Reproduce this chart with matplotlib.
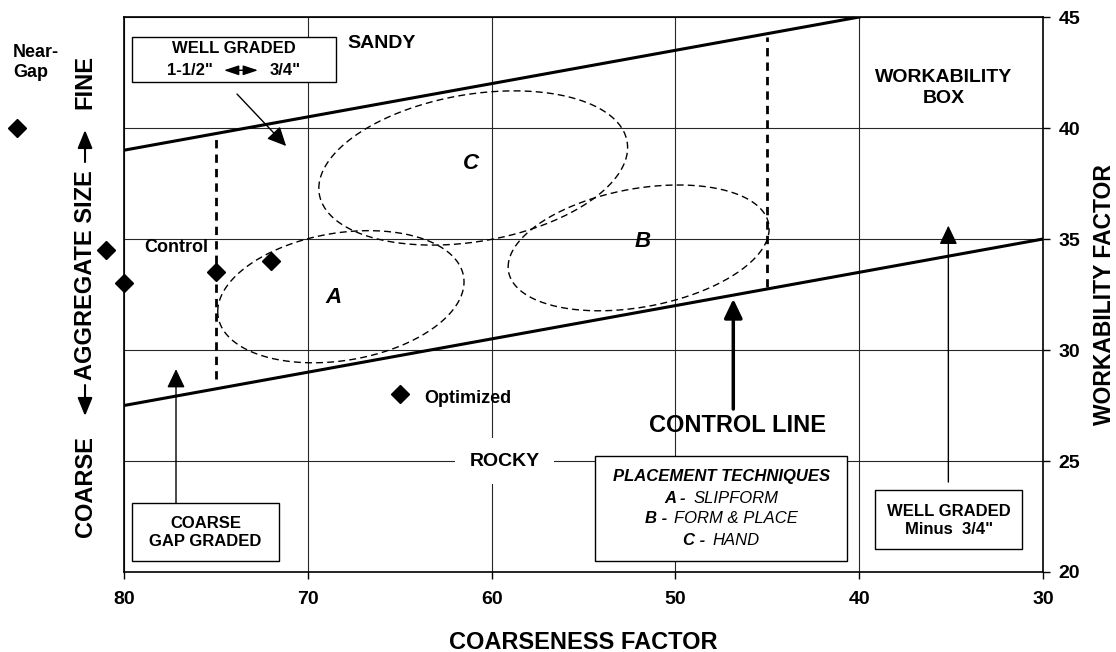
import numpy as np
import matplotlib.pyplot as plt
from matplotlib.patches import Rectangle
from matplotlib.offsetbox import TextArea, HPacker, AnnotationBbox

plt.rcParams['font.family'] = ['Liberation Sans', 'DejaVu Sans']
plt.rcParams['font.weight'] = 'bold'
plt.rcParams['axes.labelweight'] = 'bold'

# ---------------------------------------------------------------- data
# workability box edges (coarseness factor -> workability factor)
upper_cf = [80, 40]
upper_wf = [39.0, 45.0]
control_cf = [80, 30]
control_wf = [27.5, 35.0]

# dashed limits of the well graded band
zone_cf = [75, 45]
zone_low = [28.7, 32.85]
zone_high = [39.6, 44.1]

# individual mixes
mix_cf = [85.8, 81.0, 80.0, 75.0, 72.0, 65.0]
mix_wf = [40.0, 34.5, 33.0, 33.5, 34.0, 28.0]

# placement technique regions: centre, half axes, tilt
ell_names = ['A', 'B', 'C']
ell_cf = [68.2, 52.0, 61.0]
ell_wf = [32.4, 34.6, 38.2]
ell_a = [6.7, 7.1, 8.4]
ell_b = [2.9, 2.7, 3.35]
ell_tilt = [-0.67, -0.86, -0.92]
ell_label_cf = [68.6, 51.8, 61.1]
ell_label_wf = [32.35, 34.9, 38.4]

x_ticks = [80, 70, 60, 50, 40, 30]
y_ticks = [20, 25, 30, 35, 40, 45]

# ---------------------------------------------------------------- figure
fig = plt.figure(figsize=(11.16, 6.52), dpi=100)
ax = fig.add_axes([0.1111, 0.1227, 0.8235, 0.8512])
ax.set_xlim(80, 30)
ax.set_ylim(20, 45)
ax.set_xticks(x_ticks)
ax.set_yticks(y_ticks)
ax.yaxis.tick_right()
ax.yaxis.set_label_position('right')
ax.tick_params(axis='x', direction='out', length=5, width=1, pad=9, labelsize=14)
ax.tick_params(axis='y', direction='out', length=5, width=1, pad=6, labelsize=14)
ax.tick_params(axis='y', left=False)
ax.grid(True, color='0.15', lw=0.8)
for sp in ax.spines.values():
    sp.set_linewidth(1.2)

ax.set_xlabel('COARSENESS FACTOR', fontsize=17, labelpad=16)
ax.set_ylabel('WORKABILITY FACTOR', fontsize=16.5, labelpad=9)

# left axis title: COARSE <- AGGREGATE SIZE -> FINE
side_x = -0.0424
for txt, yy in [('COARSE', 0.1532), ('AGGREGATE SIZE', 0.5351), ('FINE', 0.8829)]:
    ax.text(side_x, yy, txt, transform=ax.transAxes, rotation=90,
            ha='center', va='center', fontsize=17)
for tail, tip in [(0.7387, 0.7964), (0.3369, 0.2811)]:
    ax.annotate('', xy=(side_x, tip), xytext=(side_x, tail), xycoords='axes fraction',
                arrowprops=dict(arrowstyle='-|>,head_length=1.1,head_width=0.45',
                                color='black', lw=1.5, shrinkA=0, shrinkB=0,
                                mutation_scale=10))

# box edges and control line
ax.plot(upper_cf, upper_wf, color='black', lw=2.2, zorder=4)
ax.plot(control_cf, control_wf, color='black', lw=2.2, zorder=4)
for cf, lo, hi in zip(zone_cf, zone_low, zone_high):
    ax.plot([cf, cf], [lo, hi], color='black', lw=2, dashes=(3, 2.2), zorder=4)

# placement regions
t = np.linspace(0, 2 * np.pi, 300)
for name, cx, cy, a, b, k, lx, ly in zip(ell_names, ell_cf, ell_wf, ell_a, ell_b,
                                        ell_tilt, ell_label_cf, ell_label_wf):
    ex = cx + a * np.cos(t)
    ey = cy + b * np.sin(t) + k * np.cos(t)
    ax.plot(ex, ey, color='black', lw=1, dashes=(5, 3), zorder=3)
    ax.text(lx, ly, name, fontsize=16, fontstyle='italic', ha='center', va='center')

# mixes
ax.plot(mix_cf, mix_wf, 'D', color='black', ms=9, clip_on=False, zorder=5)
ax.text(86.04, 42.95, 'Near-\nGap', fontsize=13, ha='left', va='center',
        linespacing=1.25, clip_on=False)
ax.text(78.9, 34.64, 'Control', fontsize=13, ha='left', va='center')
ax.text(63.67, 27.8, 'Optimized', fontsize=13, ha='left', va='center')

# region names
ax.text(66.0, 43.8, 'SANDY', fontsize=14, ha='center', va='center')
ax.text(59.3, 25.0, 'ROCKY', fontsize=14, ha='center', va='center', zorder=3,
        bbox=dict(boxstyle='square,pad=0.75', facecolor='white', edgecolor='none'))
ax.text(35.4, 41.8, 'WORKABILITY\nBOX', fontsize=14, ha='center', va='center',
        linespacing=1.3)
ax.text(46.63, 26.58, 'CONTROL LINE', fontsize=17, ha='center', va='center')

# framed notes
boxes = [
    (79.56, 68.46, 42.07, 44.1),
    (79.56, 71.56, 20.5, 23.11),
    (54.36, 40.64, 20.5, 25.23),
    (39.12, 31.12, 21.04, 23.69),
]
for x0, x1, y0, y1 in boxes:
    ax.add_patch(Rectangle((x1, y0), x0 - x1, y1 - y0, facecolor='white',
                           edgecolor='black', lw=1, zorder=4))

ax.text(74.0, 43.56, 'WELL GRADED', fontsize=12, ha='center', va='center', zorder=5)
ax.text(75.16, 42.57, '1-1/2"', fontsize=12, ha='right', va='center', zorder=5)
ax.text(72.1, 42.57, '3/4"', fontsize=12, ha='left', va='center', zorder=5)
ax.annotate('', xy=(72.71, 42.6), xytext=(74.56, 42.6), zorder=5,
            arrowprops=dict(arrowstyle='<|-|>,head_length=0.9,head_width=0.3',
                            color='black', lw=1, shrinkA=0, shrinkB=0,
                            mutation_scale=10))

ax.text(75.56, 21.78, 'COARSE\nGAP GRADED', fontsize=12, ha='center', va='center',
        linespacing=1.3, zorder=5)
ax.text(35.12, 22.32, 'WELL GRADED\nMinus  3/4"', fontsize=12, ha='center', va='center',
        linespacing=1.3, zorder=5)

ax.text(47.5, 24.32, 'PLACEMENT TECHNIQUES', fontsize=12, fontstyle='italic',
        ha='center', va='center', zorder=5)
techniques = [('A - ', 'SLIPFORM', 23.33), ('B - ', 'FORM & PLACE', 22.39),
              ('C - ', 'HAND', 21.44)]
for key, name, yy in techniques:
    row = HPacker(children=[
        TextArea(key, textprops=dict(fontsize=12, fontstyle='italic', fontweight='bold')),
        TextArea(name, textprops=dict(fontsize=12, fontstyle='italic', fontweight='normal')),
    ], align='baseline', pad=0, sep=2)
    ab = AnnotationBbox(row, (47.5, yy), xycoords='data', frameon=False,
                        box_alignment=(0.5, 0.5), pad=0, zorder=5)
    ax.add_artist(ab)

# arrows
head = '-|>,head_length=1.15,head_width=0.55'
arrows = [
    ((71.18, 39.19), (73.85, 41.53), 1.0),
    ((77.17, 29.14), (77.17, 23.11), 1.0),
    ((46.85, 32.3), (46.85, 27.34), 2.5),
    ((35.15, 35.6), (35.15, 24.05), 1.0),
]
for tip, tail, w in arrows:
    ax.annotate('', xy=tip, xytext=tail, zorder=5,
                arrowprops=dict(arrowstyle=head, color='black', lw=w,
                                shrinkA=0, shrinkB=0, mutation_scale=10))

fig.savefig('out.png', dpi=100)
